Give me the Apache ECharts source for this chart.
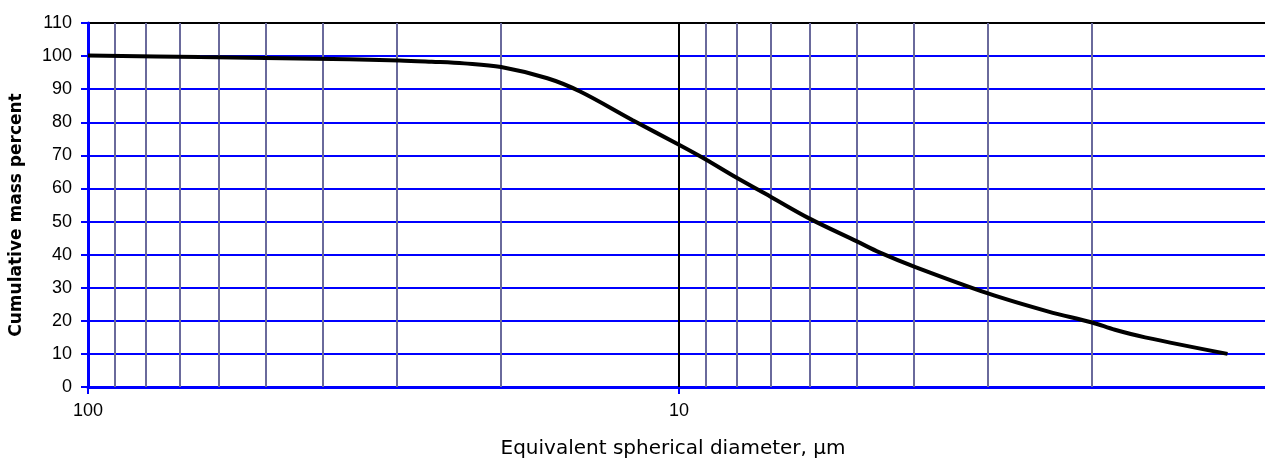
<!DOCTYPE html>
<html>
<head>
<meta charset="utf-8">
<script src="https://cdn.jsdelivr.net/npm/echarts@6/dist/echarts.min.js"></script>
<style>
  html, body { margin: 0; padding: 0; background: #fff; }
  #chart { width: 1265px; height: 459px; }
</style>
</head>
<body>
<div id="chart"></div>
<script>
// particle size curve
const diameters = [100, 64.7, 44, 29.7, 26.2, 23.1, 20, 16.7, 14.7, 12, 10, 9.04, 8, 7, 6, 5, 4.57, 4, 3, 2.37, 2, 1.83, 1.627, 1.18]
const percents = [100.2, 99.7, 99.3, 98.7, 98.3, 97.8, 96.7, 93.3, 89.3, 80.7, 73.2, 68.9, 63.3, 57.5, 50.8, 44.0, 40.6, 36.4, 28.3, 22.8, 19.5, 17.3, 15.0, 10.0]

// vertical grid lines between decades
const minorLines = [90, 80, 70, 60, 50, 40, 30, 20, 9, 8, 7, 6, 5, 4, 3, 2]
const majorLines = [10]

const yMin = 0
const yMax = 110
const yStep = 10

const chart = echarts.init(document.getElementById('chart'))

const lineData = diameters.map((d, i) => [d, percents[i]])

const hColors = []
for (let v = yMin; v <= yMax; v += yStep) {
  hColors.push(v === yMax ? '#000000' : '#0000ff')
}

chart.setOption({
  backgroundColor: '#ffffff',
  animation: false,
  grid: {
    left: 88,
    right: -5,
    top: 23,
    bottom: 72,
    outerBoundsMode: 'none'
  },
  xAxis: {
    type: 'log',
    logBase: 10,
    min: 1,
    max: 100,
    inverse: true,
    name: 'Equivalent spherical diameter, µm',
    nameLocation: 'middle',
    nameGap: 52,
    nameTextStyle: {
      color: '#000',
      fontFamily: 'DejaVu Sans',
      fontSize: 20,
      padding: [0, 12, 0, 0]
    },
    axisLine: {
      lineStyle: { color: '#0000ff', width: 3 }
    },
    axisTick: {
      show: true,
      length: 7,
      lineStyle: { color: '#0000ff', width: 2 }
    },
    axisLabel: {
      color: '#000',
      fontFamily: 'Liberation Sans',
      fontSize: 18,
      margin: 15,
      formatter(v) {
        return v === 1 ? '' : String(v)
      }
    },
    splitLine: { show: false },
    minorTick: { show: false },
    minorSplitLine: { show: false }
  },
  yAxis: {
    type: 'value',
    min: yMin,
    max: yMax,
    interval: yStep,
    name: 'Cumulative mass percent',
    nameLocation: 'middle',
    nameGap: 63,
    nameRotate: 90,
    nameTextStyle: {
      color: '#000',
      fontFamily: 'DejaVu Sans',
      fontWeight: 'bold',
      fontSize: 17,
      padding: [0, 20, 0, 0]
    },
    axisLine: {
      show: true,
      lineStyle: { color: '#0000ff', width: 3 }
    },
    axisTick: {
      show: true,
      length: 7,
      lineStyle: { color: '#0000ff', width: 2 }
    },
    axisLabel: {
      color: '#000',
      fontFamily: 'Liberation Sans',
      fontSize: 18,
      margin: 16
    },
    splitLine: {
      show: true,
      lineStyle: { color: hColors, width: 2 }
    }
  },
  series: [{
    name: 'grid',
    type: 'line',
    data: [],
    silent: true,
    z: 1,
    markLine: {
      silent: true,
      symbol: ['none', 'none'],
      label: { show: false },
      animation: false,
      data: minorLines.map(v => ({
        xAxis: v,
        lineStyle: { color: '#6a6a9c', width: 2, type: 'solid' }
      })).concat(majorLines.map(v => ({
        xAxis: v,
        lineStyle: { color: '#000000', width: 2, type: 'solid' }
      })))
    }
  }, {
    name: 'Cumulative',
    type: 'line',
    data: lineData,
    smooth: 0.35,
    showSymbol: false,
    z: 5,
    lineStyle: { color: '#000000', width: 4 }
  }]
})
</script>
</body>
</html>
